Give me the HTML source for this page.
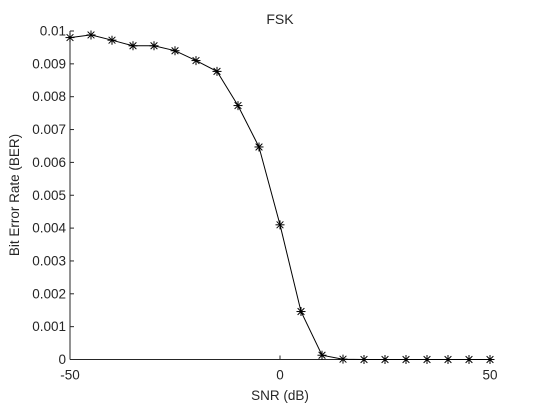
<!DOCTYPE html>
<html><head><meta charset="utf-8"><style>
html,body{margin:0;padding:0;background:#fff;}
svg text{font-family:"Liberation Sans",sans-serif;fill:#262626;}
</style></head><body>
<svg id="chart" width="541" height="405" viewBox="0 0 541 405" xmlns="http://www.w3.org/2000/svg">
<rect x="0" y="0" width="541" height="405" fill="#fff"/>
<text x="280" y="24" text-anchor="middle" font-size="14">FSK</text>
<g id="axes"></g>
<g id="series"></g>
<text x="280" y="400" text-anchor="middle" font-size="13.5">SNR (dB)</text>
<text transform="translate(19,195) rotate(-90)" text-anchor="middle" font-size="13.5">Bit Error Rate (BER)</text>
</svg>
<script>
const snr = [-50,-45,-40,-35,-30,-25,-20,-15,-10,-5,0,5,10,15,20,25,30,35,40,45,50];
const ber = [0.0098,0.00988,0.00972,0.00955,0.00955,0.00940,0.00910,0.00877,0.00773,0.00647,0.00410,0.00146,0.00013,0.00001,0,0,0,0,0,0,0];
const xTicks = [-50,0,50];
const xTickLabels = ["-50","0","50"];
const yTicks = [0,0.001,0.002,0.003,0.004,0.005,0.006,0.007,0.008,0.009,0.01];
const yTickLabels = ["0","0.001","0.002","0.003","0.004","0.005","0.006","0.007","0.008","0.009","0.01"];
const NS="http://www.w3.org/2000/svg";
const L=70,R=490,T=31,B=359.5;
const xs=v=>L+(v+50)/100*(R-L);
const ys=v=>B-v/0.01*(B-T);
const ax=document.getElementById('axes'), se=document.getElementById('series');
function mk(tag,attrs,parent){const e=document.createElementNS(NS,tag);for(const k in attrs)e.setAttribute(k,attrs[k]);parent.appendChild(e);return e;}
let e=mk('line',{x1:L,y1:T,x2:L,y2:B,stroke:'#262626','stroke-width':1},ax);


e=mk('line',{x1:L,y1:B,x2:R,y2:B,stroke:'#262626','stroke-width':1},ax);


yTicks.forEach((v,i)=>{
  const y=ys(v);
  let t=mk('line',{x1:L,y1:y,x2:L+4,y2:y,stroke:'#262626'},ax);
  
  
  let tx=mk('text',{x:L-4,y:y+4.5,'text-anchor':'end','font-size':13.5},ax);
  tx.textContent=yTickLabels[i];
  
  
});
xTicks.forEach((v,i)=>{
  const x=xs(v);
  let t=mk('line',{x1:x,y1:B,x2:x,y2:B-4,stroke:'#262626'},ax);
  
  
  let tx=mk('text',{x:x,y:B+20,'text-anchor':'middle','font-size':13.5},ax);
  tx.textContent=xTickLabels[i];
  
  
});
const pts=snr.map((v,i)=>xs(v).toFixed(1)+','+ys(ber[i]).toFixed(1)).join(' ');
let pl=mk('polyline',{points:pts,fill:'none',stroke:'#000','stroke-width':1},se);


snr.forEach((v,i)=>{
  const x=xs(v),y=ys(ber[i]),s=4.5;
  const g=mk('g',{stroke:'#000','stroke-width':1},se);
  
  
  mk('line',{x1:x-s,y1:y,x2:x+s,y2:y},g);
  mk('line',{x1:x,y1:y-s,x2:x,y2:y+s},g);
  mk('line',{x1:x-s*0.75,y1:y-s*0.75,x2:x+s*0.75,y2:y+s*0.75},g);
  mk('line',{x1:x-s*0.75,y1:y+s*0.75,x2:x+s*0.75,y2:y-s*0.75},g);
});
</script>
</body></html>
